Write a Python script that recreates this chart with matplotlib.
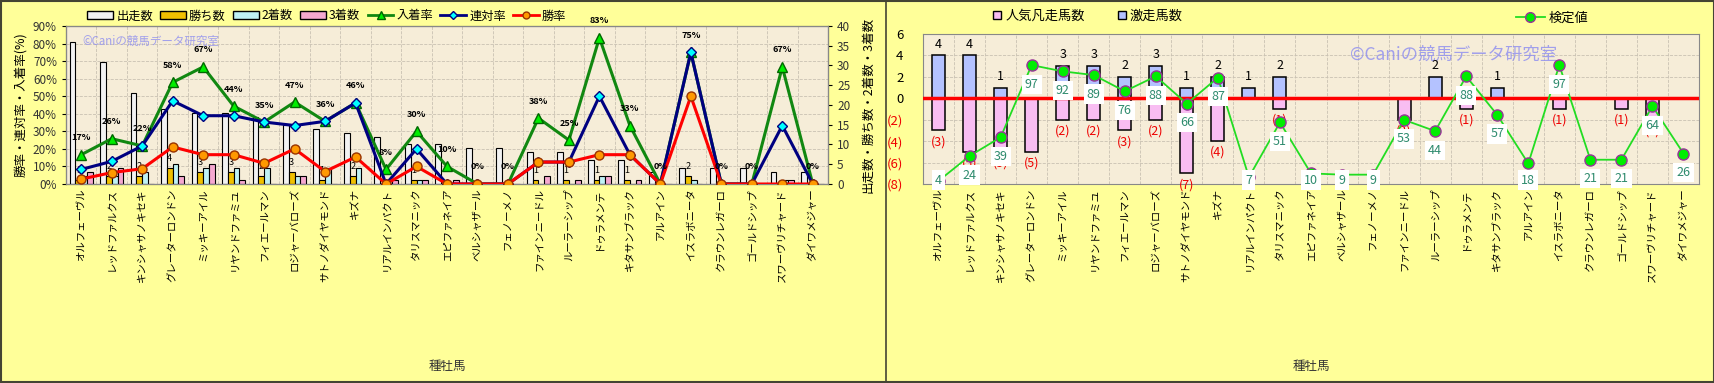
import numpy as np
import matplotlib.pyplot as plt
from matplotlib.lines import Line2D
from matplotlib.patches import Patch, Rectangle

plt.rcParams['font.family'] = ['Noto Sans CJK JP', 'DejaVu Sans']

horses = ['オルフェーヴル', 'レッドファルクス', 'キンシャサノキセキ', 'グレーターロンドン',
          'ミッキーアイル', 'リヤンドファミユ', 'フィエールマン', 'ロジャーバローズ',
          'サトノダイヤモンド', 'キズナ', 'リアルインパクト', 'タリスマニック',
          'エピファネイア', 'ベルシャザール', 'フェノーメノ', 'ファインニードル',
          'ルーラーシップ', 'ドゥラメンテ', 'キタサンブラック', 'アルアイン',
          'イスラボニータ', 'クラウンレガーロ', 'ゴールドシップ', 'スワーヴリチャード',
          'ダイワメジャー']

# left chart: counts (right axis) and rates in % (left axis)
runs = [36, 31, 23, 19, 18, 18, 17, 15, 14, 13, 12, 10, 10, 9, 9, 8, 8, 6, 6, 3, 4, 4, 4, 3, 3]
wins = [1, 2, 2, 4, 3, 3, 2, 3, 1, 2, 0, 1, 0, 0, 0, 1, 1, 1, 1, 0, 2, 0, 0, 0, 0]
second = [2, 2, 3, 5, 4, 4, 4, 2, 4, 4, 0, 1, 0, 0, 0, 0, 0, 2, 0, 0, 1, 0, 0, 1, 0]
third = [3, 4, 0, 2, 5, 1, 0, 2, 0, 0, 1, 1, 1, 0, 0, 2, 1, 2, 1, 0, 0, 0, 0, 1, 0]
place_rate = [16.7, 25.8, 21.7, 57.9, 66.7, 44.4, 35.3, 46.7, 35.7, 46.2, 8.3, 30.0, 10.0,
              0, 0, 37.5, 25.0, 83.3, 33.3, 0, 75.0, 0, 0, 66.7, 0]
quinella_rate = [8.3, 12.9, 21.7, 47.4, 38.9, 38.9, 35.3, 33.3, 35.7, 46.2, 0, 20.0, 0,
                 0, 0, 12.5, 12.5, 50.0, 16.7, 0, 75.0, 0, 0, 33.3, 0]
win_rate = [2.8, 6.5, 8.7, 21.1, 16.7, 16.7, 11.8, 20.0, 7.1, 15.4, 0, 10.0, 0,
            0, 0, 12.5, 12.5, 16.7, 16.7, 0, 50.0, 0, 0, 0, 0]

# right chart
gekisou = [4, 4, 1, 0, 3, 3, 2, 3, 1, 2, 1, 2, 0, 0, 0, 0, 2, 0, 1, 0, 0, 0, 0, 0, 0]
bonsou = [3, 5, 5, 5, 2, 2, 3, 2, 7, 4, 0, 1, 0, 0, 0, 2, 0, 1, 0, 0, 1, 0, 1, 2, 0]
kentei = [4, 24, 39, 97, 92, 89, 76, 88, 66, 87, 7, 51, 10, 9, 9, 53, 44, 88, 57, 18, 97, 21, 21, 64, 26]

W, H = 1715, 383
fig = plt.figure(figsize=(W / 100, H / 100), dpi=100)
fig.patch.set_facecolor('#FFFF99')

def box(l, r, t, b):
    return [l / W, 1 - b / H, (r - l) / W, (b - t) / H]

x = np.arange(len(horses))
plot_bg = '#F6EDD8'
grid_c = '#C9C1B2'

# ---------- left chart ----------
ax = fig.add_axes(box(66, 828, 26, 184))
ax.set_facecolor(plot_bg)
axc = ax.twinx()
ax.set_zorder(axc.get_zorder() + 1)
ax.patch.set_visible(False)
axc.patch.set_facecolor(plot_bg)
axc.patch.set_visible(True)

bw = 0.19
axc.bar(x - 1.5 * bw, runs, bw, color='#F2F2F2', edgecolor='black', linewidth=0.8)
axc.bar(x - 0.5 * bw, wins, bw, color='#F0C000', edgecolor='black', linewidth=0.8)
axc.bar(x + 0.5 * bw, second, bw, color='#BFF2F5', edgecolor='black', linewidth=0.8)
axc.bar(x + 1.5 * bw, third, bw, color='#F5A8D0', edgecolor='black', linewidth=0.8)
for i, w in enumerate(wins):
    if w > 0:
        axc.text(i - 0.5 * bw, w + 1.2, str(w), ha='center', va='bottom', fontsize=6.5)
axc.set_ylim(0, 40)
axc.set_yticks(range(0, 41, 5))
axc.tick_params(axis='y', labelsize=8.5, labelcolor='#333333', length=3)
axc.set_ylabel('出走数・勝ち数・2着数・3着数', fontsize=9, rotation=90, labelpad=8)

ax.plot(x, place_rate, color='#118811', lw=2.2, marker='^', ms=7,
        mfc='#00EE00', mec='#006600', zorder=5)
ax.plot(x, quinella_rate, color='#000080', lw=2.2, marker='D', ms=5,
        mfc='#00FFFF', mec='#000080', zorder=6)
ax.plot(x, win_rate, color='#FF0000', lw=2.2, marker='o', ms=6.5,
        mfc='#FF9900', mec='#993300', zorder=7)
for i, v in enumerate(place_rate):
    ax.annotate(f'{v:.0f}%', (i, v), xytext=(0, 9), textcoords='offset points',
                ha='center', va='bottom', fontsize=6.5, fontweight='bold', zorder=8)
ax.set_ylim(0, 90)
ax.set_yticks(range(0, 91, 10))
ax.set_yticklabels([f'{v}%' for v in range(0, 91, 10)])
ax.tick_params(axis='y', labelsize=8.5, labelcolor='#333333', length=3)
ax.set_ylabel('勝率・連対率・入着率(%)', fontsize=9, labelpad=4)
ax.set_xlim(-0.5, len(horses) - 0.5)
ax.set_xticks(x)
ax.set_xticklabels(horses, rotation=90, fontsize=7.5)
ax.tick_params(axis='x', length=0, pad=3)
for v in range(10, 90, 10):
    axc.axhline(v * 40 / 90, color=grid_c, lw=0.6, ls='--', zorder=0)
for i in range(len(horses) - 1):
    axc.axvline(i + 0.5, color=grid_c, lw=0.6, ls='--', zorder=0)
for s in ax.spines.values():
    s.set_color('#888888')
ax.text(0.022, 0.9, '©Caniの競馬データ研究室', transform=ax.transAxes, fontsize=8.3,
        color='#8C8CF0', alpha=0.8, va='center', zorder=9)
ax.set_xlabel('種牡馬', fontsize=9, color='#333333')
ax.xaxis.set_label_coords(0.5, (184 - 360) / 158)

handles = [Patch(fc='#F2F2F2', ec='black'), Patch(fc='#F0C000', ec='black'),
           Patch(fc='#BFF2F5', ec='black'), Patch(fc='#F5A8D0', ec='black'),
           Line2D([], [], color='#118811', lw=2, marker='^', mfc='#00EE00', mec='#006600', ms=6),
           Line2D([], [], color='#000080', lw=2, marker='D', mfc='#00FFFF', mec='#000080', ms=4),
           Line2D([], [], color='#FF0000', lw=2, marker='o', mfc='#FF9900', mec='#993300', ms=5)]
fig.legend(handles, ['出走数', '勝ち数', '2着数', '3着数', '入着率', '連対率', '勝率'],
           loc='center', bbox_to_anchor=(327 / W, 1 - 16 / H), ncol=7, frameon=False,
           fontsize=8.8, handlelength=2.1, handleheight=0.6, columnspacing=0.6,
           handletextpad=0.25, borderpad=0.2)

# ---------- right chart ----------
ar = fig.add_axes(box(923, 1699, 34, 184))
ar.set_facecolor(plot_bg)
rw = 0.42
ar.bar(x, gekisou, rw, color='#B4C2FF', edgecolor='black', linewidth=1.1, zorder=3)
ar.bar(x, [-v for v in bonsou], rw, color='#F8BDF2', edgecolor='black', linewidth=1.1, zorder=3)
for i, v in enumerate(gekisou):
    if v > 0:
        ar.text(i, v + 0.45, str(v), ha='center', va='bottom', fontsize=9, zorder=4)
for i, v in enumerate(bonsou):
    if v > 0:
        ar.text(i, -v - 0.45, f'({v})', ha='center', va='top', fontsize=9,
                color='#EE0000', zorder=4)
ar.axhline(0, color='#FF0000', lw=2.5, zorder=4)
ar.set_ylim(-8, 6)
ar.set_xlim(-0.5, len(horses) - 0.5)
ticks = list(range(-8, 7, 2))
ar.set_yticks(ticks)
ar.set_yticklabels([f'({-t})' if t < 0 else str(t) for t in ticks])
for lab, t in zip(ar.get_yticklabels(), ticks):
    lab.set_color('#EE0000' if t < 0 else 'black')
ar.tick_params(axis='y', labelsize=9.5, length=0, pad=14)
ar.set_xticks(x)
ar.set_xticklabels(horses, rotation=90, fontsize=7.5)
ar.tick_params(axis='x', length=0, pad=3)
for t in ticks[1:-1]:
    ar.axhline(t, color=grid_c, lw=0.6, ls='--', zorder=0)
for i in range(len(horses) - 1):
    ar.axvline(i + 0.5, color=grid_c, lw=0.6, ls='--', zorder=0)
for s in ar.spines.values():
    s.set_color('#888888')
ar.text(0.55, 0.86, '©Caniの競馬データ研究室', transform=ar.transAxes, fontsize=12.5,
        color='#8C8CF0', alpha=0.8, va='center', ha='left', zorder=2)
ar.set_xlabel('種牡馬', fontsize=9, color='#333333')
ar.xaxis.set_label_coords(0.5, (184 - 360) / 150)

ak = ar.twinx()
ak.set_ylim(1.5, 122)
ak.axis('off')
ak.plot(x, kentei, color='#22DD22', lw=1.3, marker='o', ms=8,
        mfc='#00EE00', mec='#993399', mew=1, zorder=5)
for i, v in enumerate(kentei):
    ak.text(i, max(v - 15.3, 4.7), str(v), ha='center', va='center', fontsize=9,
            color='#2E8B6E', zorder=6,
            bbox=dict(boxstyle='square,pad=0.25', fc='white', ec='none'))

fig.legend([Patch(fc='#F8BDF2', ec='black'), Patch(fc='#B4C2FF', ec='black')],
           ['人気凡走馬数', '激走馬数'], loc='center', bbox_to_anchor=(1088 / W, 1 - 16 / H),
           ncol=2, frameon=False, fontsize=9.5, handlelength=0.6, handleheight=0.6,
           columnspacing=2.5, handletextpad=0.3)
fig.legend([Line2D([], [], color='#22DD22', lw=1.3, marker='o', ms=7,
                   mfc='#00EE00', mec='#993399')],
           ['検定値'], loc='center', bbox_to_anchor=(1552 / W, 1 - 18 / H),
           frameon=False, fontsize=9.5, handlelength=2.2, handletextpad=0.3)

# panel borders
fig.add_artist(Rectangle((0.0006, 0.002), 0.9988, 0.996, transform=fig.transFigure,
                         fill=False, ec='#444433', lw=1.5))
fig.add_artist(Line2D([886 / W, 886 / W], [0, 1], transform=fig.transFigure,
                      color='#444433', lw=1.2))

fig.savefig('out.png', dpi=100, facecolor=fig.get_facecolor())
